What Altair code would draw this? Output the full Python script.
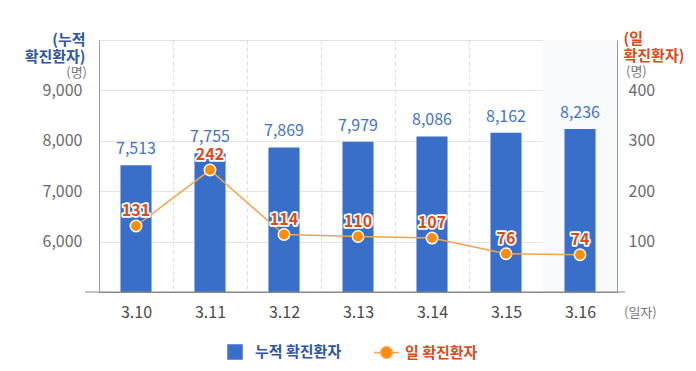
import altair as alt
import pandas as pd

dates = ["3.10", "3.11", "3.12", "3.13", "3.14", "3.15", "3.16"]
cumulative = [7513, 7755, 7869, 7979, 8086, 8162, 8236]
daily = [131, 242, 114, 110, 107, 76, 74]
series_names = ["누적 확진환자", "일 확진환자"]
left_ticks = [6000, 7000, 8000, 9000]
right_ticks = [100, 200, 300, 400]
highlight_date = ["3.16"]

FONT = "Noto Sans CJK KR"
BLUE = "#3a6fc9"
BLUE_TXT = "#4273c8"
BLUE_TITLE = "#2f55a6"
ORANGE = "#ff8c0a"
ORANGE_LINE = "#f5a24a"
RED_TXT = "#dc4a1a"

df = pd.DataFrame({
    "date": dates,
    "cum": cumulative,
    "daily": daily,
    "s1": [series_names[0]] * len(dates),
    "s2": [series_names[1]] * len(dates),
})

W, H = 518, 252

x_enc = alt.X(
    "date:N",
    sort=dates,
    scale=alt.Scale(paddingInner=0, paddingOuter=0),
    axis=alt.Axis(
        title=None, labelAngle=0, labelFontSize=16, labelColor="#4a4a4a",
        labelPadding=12, ticks=False, domain=True, domainColor="#888888",
        grid=True, gridDash=[4, 3], gridColor="#dddddd", tickBand="extent",
    ),
)

left_scale = alt.Scale(domain=[5000, 10000], nice=False, zero=False)
right_scale = alt.Scale(domain=[0, 500], nice=False)

base = alt.Chart(df).encode(x=x_enc)

highlight = base.transform_filter(
    alt.FieldOneOfPredicate(field="date", oneOf=highlight_date)
).mark_bar(color="#f8fafe", width=alt.RelativeBandSize(1)).encode(
    y=alt.value(0), y2=alt.value(H)
)

bars = base.mark_bar(width=alt.RelativeBandSize(0.42), clip=True).encode(
    y=alt.Y(
        "cum:Q", scale=left_scale,
        axis=alt.Axis(
            values=left_ticks, format=",.0f", labelFontSize=16, labelColor="#6b6b6b",
            labelPadding=17, ticks=False, domainColor="#999999", grid=True,
            gridColor="#e4e4e4", title=["(누적", "확진환자)"], titleColor=BLUE_TITLE,
            titleFontSize=15, titleFontWeight="bold", titleAngle=0, titleAlign="right",
            titleBaseline="top", titleX=-14, titleY=-8, titleLineHeight=17,
        ),
    ),
    color=alt.Color(
        "s1:N", scale=alt.Scale(range=[BLUE]),
        legend=alt.Legend(
            title=None, orient="none", legendX=128, legendY=304, padding=0,
            symbolType="square", symbolSize=240, symbolStrokeWidth=0,
            labelFont=FONT, labelFontSize=15, labelFontWeight="bold",
            labelColor=BLUE_TITLE, labelOffset=12,
        ),
    ),
)

bar_labels = base.mark_text(
    baseline="bottom", dy=-8, fontSize=16, color=BLUE_TXT, font=FONT
).encode(y=alt.Y("cum:Q", scale=left_scale), text=alt.Text("cum:Q", format=","))

bottom_line = alt.Chart(pd.DataFrame({"k": [0]})).mark_rule(
    color="#888888", strokeWidth=1
).encode(x=alt.value(-14), x2=alt.value(W + 8), y=alt.value(H))

ann_df = pd.DataFrame({"t": ["(명)"]})
left_unit = alt.Chart(ann_df).mark_text(
    align="right", baseline="middle", fontSize=13, color="#777777", font=FONT
).encode(x=alt.value(-12), y=alt.value(33), text="t:N")
right_unit = alt.Chart(ann_df).mark_text(
    align="left", baseline="middle", fontSize=13, color="#777777", font=FONT
).encode(x=alt.value(W + 9), y=alt.value(32), text="t:N")
x_unit = alt.Chart(pd.DataFrame({"t": ["(일자)"]})).mark_text(
    align="left", baseline="middle", fontSize=13, color="#777777", font=FONT
).encode(x=alt.value(W + 7), y=alt.value(H + 21), text="t:N")

left = alt.layer(highlight, bars, bar_labels, bottom_line, left_unit, x_unit)

line_path = "M-1,0H-0.5M0.5,0H1M-0.46,0A0.46,0.46 0 1,0 0.46,0A0.46,0.46 0 1,0 -0.46,0Z"

line = base.mark_line(strokeWidth=1.5).encode(
    y=alt.Y(
        "daily:Q", scale=right_scale,
        axis=alt.Axis(
            orient="right", values=right_ticks, labelFontSize=16, labelColor="#6b6b6b",
            labelPadding=11, ticks=False, domainColor="#999999", grid=False,
            title=["(일", "확진환자)"], titleColor=RED_TXT, titleFontSize=15,
            titleFontWeight="bold", titleAngle=0, titleAlign="left",
            titleBaseline="top", titleX=6, titleY=-9, titleLineHeight=17,
        ),
    ),
    stroke=alt.Stroke(
        "s2:N", scale=alt.Scale(range=[ORANGE_LINE]),
        legend=alt.Legend(
            title=None, orient="none", legendX=274, legendY=299, padding=0,
            symbolType=line_path, symbolSize=625, symbolStrokeWidth=1.5,
            symbolFillColor=ORANGE,
            labelFont=FONT, labelFontSize=15, labelFontWeight="bold",
            labelColor=RED_TXT, labelOffset=5,
        ),
    ),
)

points = base.mark_point(
    filled=True, size=130, fill=ORANGE, stroke="white", strokeWidth=1.5, opacity=1
).encode(y=alt.Y("daily:Q", scale=right_scale))

halo = base.mark_text(
    baseline="middle", dy=-15, fontSize=16, fontWeight="bold", font=FONT,
    stroke="white", strokeWidth=3.5, color="white", strokeJoin="round",
).encode(y=alt.Y("daily:Q", scale=right_scale), text="daily:Q")

line_labels = base.mark_text(
    baseline="middle", dy=-15, fontSize=16, fontWeight="bold", font=FONT, color=RED_TXT
).encode(y=alt.Y("daily:Q", scale=right_scale), text="daily:Q")

right = alt.layer(line, points, halo, line_labels, right_unit)

chart = alt.layer(left, right).resolve_scale(y="independent").properties(
    width=W, height=H,
    autosize=alt.AutoSizeParams(type="none"),
    padding={"left": 91, "top": 32, "right": 71, "bottom": 71},
).configure(font=FONT).configure_view(stroke="#e0e0e0")

chart.save("out.html", embed_options={"renderer": "svg", "actions": False})
